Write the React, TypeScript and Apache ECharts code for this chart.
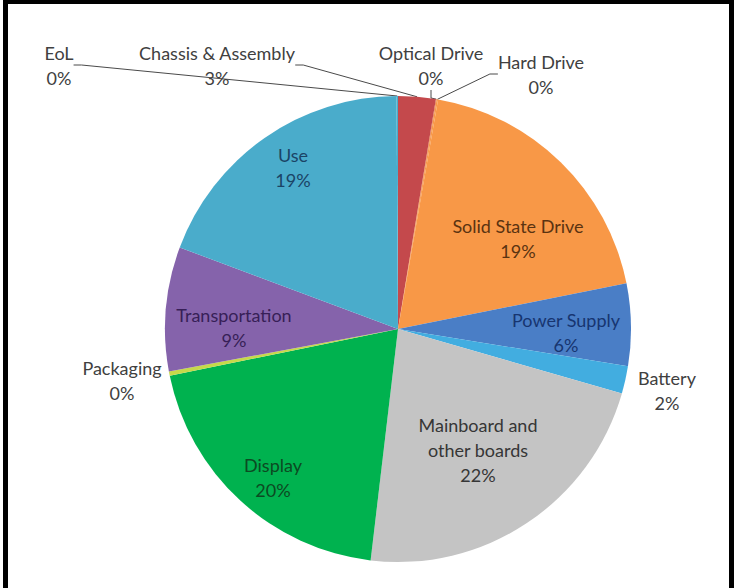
import React, { useEffect, useRef } from "react";
import * as echarts from "echarts";

const categories = [
  "Chassis & Assembly",
  "Optical Drive",
  "Hard Drive",
  "Solid State Drive",
  "Power Supply",
  "Battery",
  "Mainboard and other boards",
  "Display",
  "Packaging",
  "Transportation",
  "Use",
  "EoL",
];
const labelTexts = [
  "Chassis & Assembly",
  "Optical Drive",
  "Hard Drive",
  "Solid State Drive",
  "Power Supply",
  "Battery",
  "Mainboard and\nother boards",
  "Display",
  "Packaging",
  "Transportation",
  "Use",
  "EoL",
];
const shares = [2.6, 0.05, 0.1, 19.1, 5.7, 1.9, 22.4, 19.9, 0.3, 8.6, 19.2, 0.1];

const sliceColors = [
  "#c4494c", "#e07040", "#f89847", "#f89847", "#4a7ec6", "#42ade0",
  "#c4c4c4", "#00b24f", "#c6d94a", "#8563ab", "#4aaccb", "#4aaccb",
];
const labelColors = [
  "#404040", "#404040", "#404040", "#5a3311", "#173570", "#404040",
  "#363636", "#0c4a22", "#404040", "#371f57", "#1b4466", "#404040",
];
const insideLabels = [false, false, false, true, true, false, true, true, false, true, true, false];
const showLines = [true, true, true, false, false, false, false, false, false, false, false, true];
// label block centres in px
const labelPositions = [
  [217, 65], [431, 65], [541, 74], [518, 238], [566, 332], [667, 390],
  [478, 450], [273, 477], [122, 380], [234, 327], [293, 167], [59, 65],
];

export default function App() {
  const ref = useRef<HTMLDivElement>(null);
  useEffect(() => {
    if (!ref.current) return;
    const chart = echarts.init(ref.current, undefined, { renderer: "svg" });
    const total = shares.reduce((a, b) => a + b, 0);
    chart.setOption({
      animation: false,
      backgroundColor: "#ffffff",
      graphic: [
        { type: "rect", shape: { x: 3, y: 0, width: 5, height: 588 }, style: { fill: "#000" } },
        { type: "rect", shape: { x: 3, y: 0, width: 731, height: 4 }, style: { fill: "#000" } },
        { type: "rect", shape: { x: 729, y: 0, width: 5, height: 588 }, style: { fill: "#000" } },
      ],
      series: [
        {
          type: "pie",
          center: [398, 329],
          radius: 233,
          startAngle: 90,
          clockwise: true,
          minAngle: 0,
          avoidLabelOverlap: false,
          emphasis: { disabled: true },
          label: {
            fontFamily: "Lato",
            fontSize: 18,
            lineHeight: 25,
            formatter: (p: any) =>
              `${labelTexts[p.dataIndex]}\n${Math.round((p.value / total) * 100)}%`,
          },
          labelLine: { length: 10, length2: 8, smooth: false },
          labelLayout: (p: any) => ({
            x: labelPositions[p.dataIndex][0],
            y: labelPositions[p.dataIndex][1],
            align: "center",
            verticalAlign: "middle",
          }),
          data: categories.map((name, i) => ({
            name,
            value: shares[i],
            itemStyle: { color: sliceColors[i] },
            label: {
              position: insideLabels[i] ? "inside" : "outside",
              color: labelColors[i],
            },
            labelLine: {
              show: showLines[i],
              length: 10,
              length2: 8,
              lineStyle: { color: "#4a4a4a", width: 1 },
            },
          })),
        },
      ],
    });
    return () => chart.dispose();
  }, []);
  return (
    <div
      ref={ref}
      style={{ position: "fixed", left: 0, top: 0, width: 739, height: 588 }}
    />
  );
}
